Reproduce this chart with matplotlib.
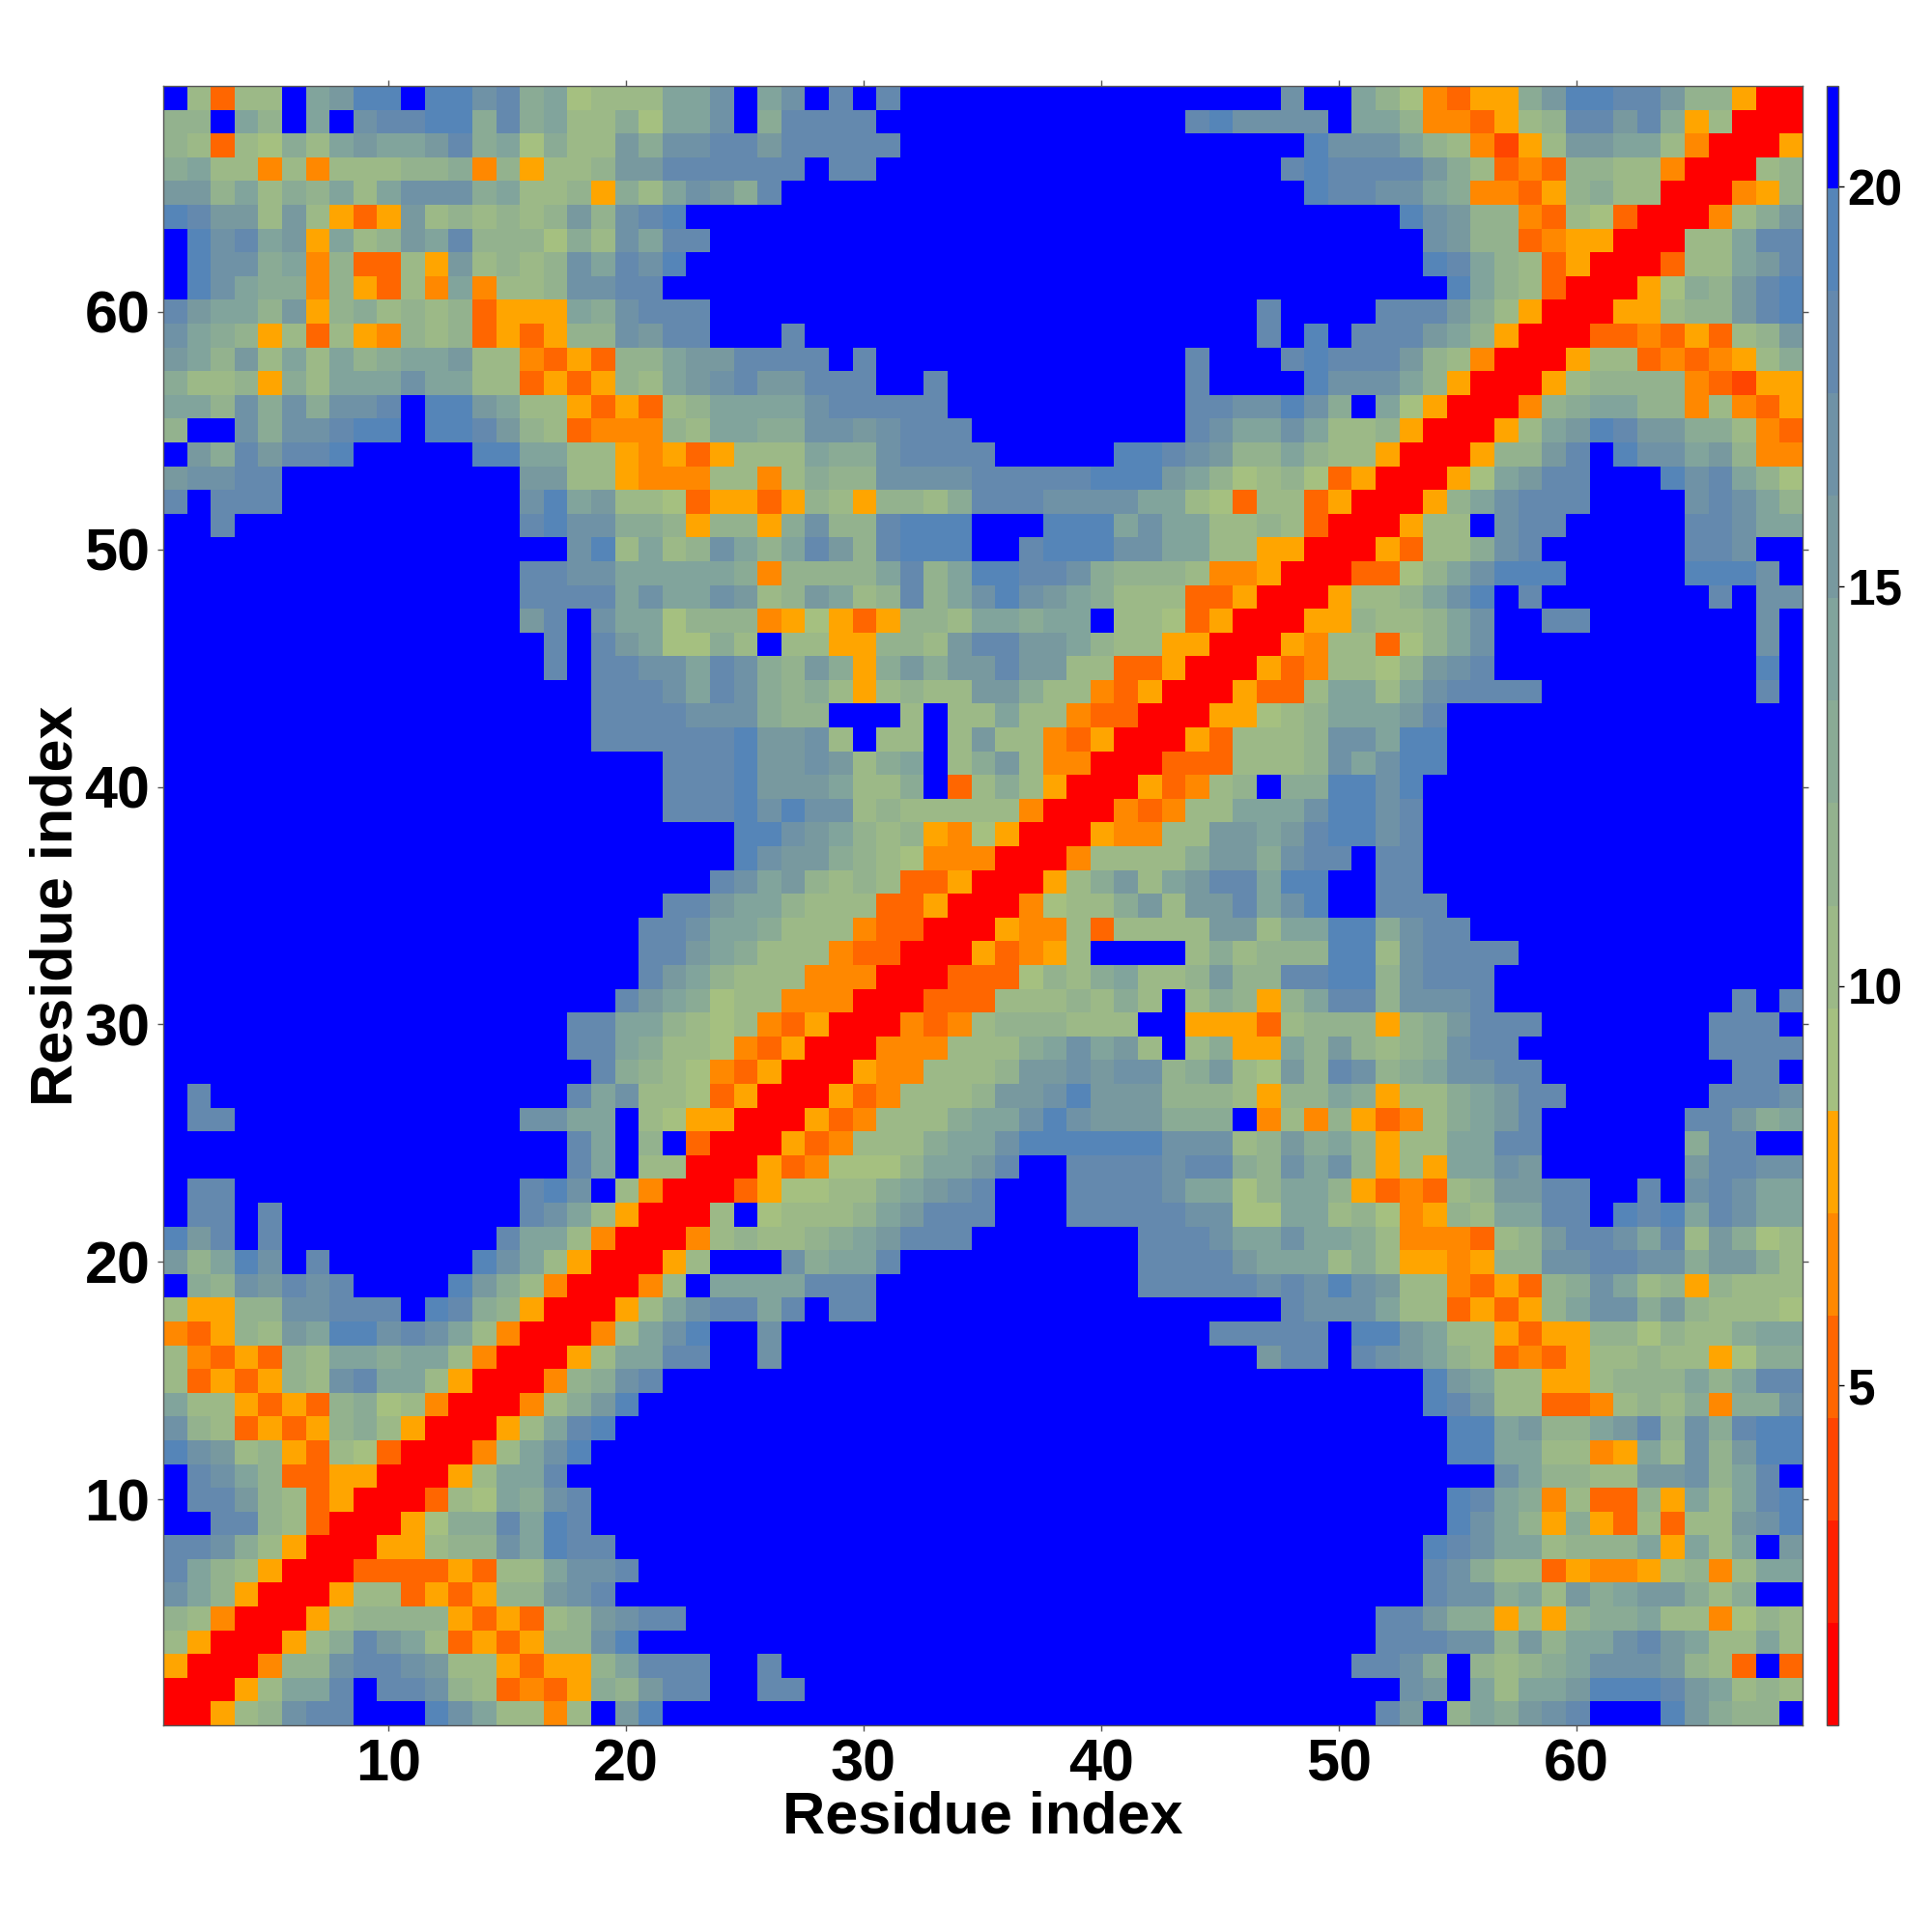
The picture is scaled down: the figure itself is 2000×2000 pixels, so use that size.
import matplotlib
matplotlib.use('Agg')
import matplotlib.pyplot as plt
import numpy as np
from matplotlib.colors import ListedColormap

# contact map is symmetric: row y holds residues x = y..69, hex digit = colour band
# groups break at x = 9, 19, 29 ... so the columns are easy to check
rows = [
    "00578cddf ffeca7747f beffffffff ffffffffff ffffffffff ffdbf8a9bc dfffeb988f",
    "0057aadf ddc8734359 8bddffddff ffffffffff ffffffffff fffcbfa7aa beeedba787",
    "00488cd dcb7753558 adddffdfff ffffffffff ffffffffff fddc9f8789 acccb873f3",
    "00579d ba7353588c efffffffff ffffffffff ffffffffff ffdddcc8b8 aacdba77a7",
    "00578 888535378b cddfffffff ffffffffff ffffffffff ffddb99575 899a774687",
    "0057 7353588bcd ffffffffff ffffffffff ffffffffff ffffdcc9a7 b9abb979ff",
    "003 3335377acc dfffffffff ffffffffff ffffffffff ffffdc9773 54457847aa",
    "00 55788caedd ffffffffff ffffffffff ffffffffff ffffedcaa7 888a5a7afb",
    "0 05699daedf ffffffffff ffffffffff ffffffffff fffffeca85 9537377bce",
    "00376a9cdf ffffffffff ffffffffff ffffffffff fffffeda94 73385a7ade",
    "0057aadff ffffffffff ffffffffff ffffffffff fffffffca8 877bbc8adf",
    "0047acef ffffffffff ffffffffff ffffffffff fffffeeaa7 745a7c8bee",
    "0057ade ffffffffff ffffffffff ffffffffff fffffeeab8 8abd8c9dee",
    "00479b efffffffff ffffffffff ffffffffff ffffedb773 347879499c",
    "00489 cdffffffff ffffffffff ffffffffff ffffeba775 57888a8add",
    "0057 aaddffcfff ffffffffff fffffffbdd fdcba87343 5778775699",
    "004 7aceffcfff ffffffffff fffffddddd feeba77535 58868779aa",
    "00 57acddadfd dfffffffff ffffffffdc cca7735358 acc9b87776",
    "0 047faaaadd dfffffffff ffdddddcdc ecb7743538 9ca7858777",
    "0057fffc9a adffffffff ffddddbaaa 797554588c cddcc9bb97",
    "004787789 abdddfffff ffdddcaaca a97444378b ddcad7b967",
    "007f6777 8abdddfffd ddddcc66aa 7864587aad dfedeadcaa",
    "0035667 79abcdfffd dddcaa68aa 8534378bbd dffdfcdcaa",
    "005346 668aabdffd dddcdd98ca c8575aacbf fffffbddcc",
    "00534 7779aaceee eeeccc78b9 a8577aaddf fffff9ddff",
    "0053 47779aacec bbb999f474 853479abdf fffffddb9a",
    "005 347778bbce bbb8887588 a95779abdd ffffffdddc",
    "00 5447778bbc bcc89b76b8 dc89accddf fffffffddf",
    "0 04447779ac ab7f7955a8 b8789cddff ffffffdddd",
    "0043478887 77ff555378 88589bdddf ffffffdddf",
    "003337778 797f79858a dd8cccdfff fffffffdfd",
    "00333687 9a778b88dd ee8cdddfff ffffffffff",
    "0053457 ffff797888 ee7cddddff ffffffffff",
    "005447 37777bb7aa ee9cddffff ffffffffff",
    "00467 79b7bbdace ffdddfffff ffffffffff",
    "0057 9b7abddaee ffddffffff ffffffffff",
    "004 77779bb9cd dfddffffff ffffffffff",
    "00 54477bbabd eecdffffff ffffffffff",
    "0 043477aaac eecdffffff ffffffffff",
    "0053478f99 eeceffffff ffffffffff",
    "003337778 caceefffff ffffffffff",
    "00537778 ccaeefffff ffffffffff",
    "0055678 aaabdfffff ffffffffff",
    "005337 aa7acddddf ffffffffdf",
    "00534 7768bcdfff ffffffffef",
    "0054 77368acfff ffffffffcf",
    "005 58778acffd dfffffffcf",
    "00 5778acefdf ffffffdfcc",
    "0 03368aceee fffffeeecf",
    "0053779cdf fffffddcff",
    "00577fcdd fffffddcaa",
    "0058acdd dffffcdca8",
    "0056abd dfffecda86",
    "00588b dfeccab844",
    "0057a bedbb99743",
    "0048 9aa8847435",
    "005 7888843255",
    "00 5773434579",
    "0 033435378b",
    "0055788bde",
    "005698bde",
    "00377abd",
    "0077add",
    "00479b",
    "00458",
    "0078",
    "005",
    "00",
    "0",
]

band_colors = ['#ff0000', '#ff2000', '#ff4500', '#ff6600', '#ff8800', '#ffa500',
               '#a5c080', '#9cb987', '#93b28e', '#8aab95', '#81a49c', '#78999f',
               '#6f92a6', '#6489ae', '#5585b8', '#0000ff']
cbar_min = 0.75
cbar_max = 21.26
axis_ticks = [10, 20, 30, 40, 50, 60]
cbar_ticks = [5, 10, 15, 20]
labelText = 'Residue index'


def buildMatrix(rows: list) -> np.ndarray:
    n = len(rows)
    step = (cbar_max - cbar_min) / len(band_colors)
    data = np.zeros((n, n))
    for i, row in enumerate(rows):
        codes = row.replace(' ', '')
        assert len(codes) == n - i, (i + 1, len(codes), n - i)
        for k, c in enumerate(codes):
            val = cbar_min + (int(c, 16) + 0.5) * step
            data[i, i + k] = val
            data[i + k, i] = val
    return data


def main():
    plt.rcParams['font.family'] = ['Liberation Sans', 'DejaVu Sans']
    plt.rcParams['font.weight'] = 'bold'

    matrix = buildMatrix(rows)

    fig = plt.figure(figsize=(10, 10), dpi=200)
    ax = fig.add_axes([0.08425, 0.107, 0.8485, 0.8485])
    cax = fig.add_axes([0.9453, 0.107, 0.0064, 0.8485])

    cmap = ListedColormap(band_colors)
    img = ax.imshow(matrix, origin='lower', extent=[0.5, 69.5, 0.5, 69.5], cmap=cmap,
                    vmin=cbar_min, vmax=cbar_max, interpolation='nearest', aspect='auto')

    ax.set_xticks(axis_ticks)
    ax.set_yticks(axis_ticks)
    ax.tick_params(axis='both', which='major', labelsize=22, length=2.2, width=0.5,
                   color='#555555', top=True, right=True, pad=2.5)
    ax.set_xlabel(labelText, fontsize=22, fontweight='bold', labelpad=-1)
    ax.set_ylabel(labelText, fontsize=22, fontweight='bold', labelpad=0)
    for spine in ax.spines.values():
        spine.set_linewidth(0.5)
        spine.set_color('#555555')

    cbar = fig.colorbar(img, cax=cax)
    cbar.set_ticks(cbar_ticks)
    cbar.ax.tick_params(labelsize=18.5, length=2.2, width=0.5, pad=1)
    cbar.outline.set_linewidth(0.5)
    cbar.outline.set_edgecolor('#555555')

    fig.savefig('out.png', dpi=200, facecolor='white')


if __name__ == '__main__':
    main()
